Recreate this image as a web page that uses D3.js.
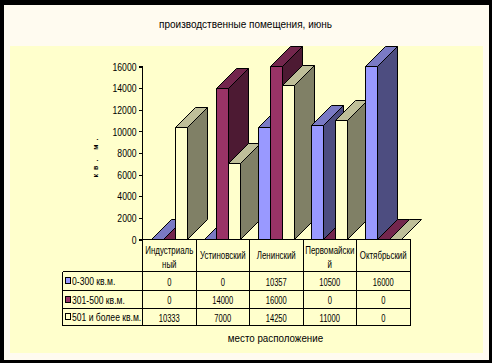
<!DOCTYPE html>
<html><head><meta charset="utf-8">
<script src="https://cdn.jsdelivr.net/npm/d3@7"></script>
<style>html,body{margin:0;padding:0;background:#000}svg{display:block}text{fill:#000}</style>
</head><body><div id="c"></div>
<script>
const categories = ["Индустриальный","Устиновский","Ленинский","Первомайский","Октябрьский"];
const categoryLines = [["Индустриаль","ный"],["Устиновский"],["Ленинский"],["Первомайски","й"],["Октябрьский"]];
const seriesNames = ["0-300 кв.м.","301-500 кв.м.","501 и более кв.м."];
const small = [0,0,10357,10500,16000];
const medium = [0,14000,16000,0,0];
const large = [10333,7000,14250,11000,0];
const yTicks = [0,2000,4000,6000,8000,10000,12000,14000,16000];
const seriesValues = [small,medium,large];
const fronts = ["#9999FF","#993366","#FFFFCC"];
const sides = ["#4D4D80","#4D1A33","#808066"];
const tops = ["#7A7AC4","#73264D","#BFBF99"];

const W=492,H=363,SANS="'Liberation Sans',Arial,sans-serif";
const svg=d3.select("#c").append("svg").attr("width",W).attr("height",H);
svg.append("rect").attr("width",W).attr("height",H).attr("fill","#000");
svg.append("rect").attr("x",4).attr("y",5).attr("width",485).attr("height",355).attr("fill","#FFFBF0");
svg.append("rect").attr("x",10).attr("y",46).attr("width",473).attr("height",307).attr("fill","#FFFFCC");

const y=d3.scaleLinear().domain([0,16000]).range([239.5,66.5]);
const x=d3.scaleBand().domain(categories).range([142.5,410]);
const xs=d3.scaleBand().domain(seriesNames).range([8.5,44.5]);
const dep=20, snap=v=>Math.round(v-0.5)+0.5;

const bars=svg.append("g").attr("stroke","#000").attr("stroke-width",1).attr("stroke-linejoin","miter");
categories.forEach((c,ci)=>{
  seriesNames.forEach((s,si)=>{
    const v=seriesValues[si][ci];
    const x0=snap(x(c)+xs(s)), x1=snap(x(c)+xs(s)+xs.bandwidth());
    const yt=snap(y(v)), yb=y(0);
    const poly=(pts,f)=>bars.append("polygon").attr("points",pts.map(p=>p.join(",")).join(" ")).attr("fill",f);
    if(v>0){
      poly([[x1,yt],[x1+dep,yt-dep],[x1+dep,yb-dep],[x1,yb]],sides[si]);
      poly([[x0,yb],[x0,yt],[x1,yt],[x1,yb]],fronts[si]);
    }
    poly([[x0,yt],[x0+dep,yt-dep],[x1+dep,yt-dep],[x1,yt]],tops[si]);
  });
});

// y axis
const tickSqueeze=0.75;
const ax=svg.append("g").attr("transform","translate(142.5,0)").call(d3.axisLeft(y).tickValues(yTicks).tickFormat(d3.format("d")).tickSize(4).tickPadding(2));
ax.selectAll("path,line").attr("stroke","#000").attr("shape-rendering","crispEdges");
ax.select(".domain").attr("d","M-4,66.5H0V239.5H-4");
ax.selectAll("text").attr("font-family",SANS).attr("font-size",11.5).attr("fill","#000")
  .attr("x",-6/tickSqueeze).attr("transform",`scale(${tickSqueeze},1)`);

// data table
const rowY=[271.5,290.5,308.5,325.5];
const L=62.5,R=410.5;
const t=svg.append("g").attr("stroke","#000").attr("shape-rendering","crispEdges");
const hl=(a,b,yy)=>t.append("line").attr("x1",a).attr("x2",b).attr("y1",yy).attr("y2",yy);
const vl=(xx,a,b)=>t.append("line").attr("x1",xx).attr("x2",xx).attr("y1",a).attr("y2",b);
hl(142.5,R,239.5); rowY.forEach(r=>hl(L,R,r));
vl(L,rowY[0],rowY[3]);
categories.forEach(c=>vl(snap(x(c)),239.5,rowY[3]));
vl(R,239.5,rowY[3]);

// the source uses a condensed face: texts are scaled horizontally by k
const txt=(tx,ty,s,size,anchor,k)=>svg.append("text").attr("transform",`translate(${tx},${ty}) scale(${k||1},1)`).attr("text-anchor",anchor||"middle")
  .attr("font-family",SANS).attr("font-size",size).text(s);
categories.forEach((c,ci)=>{
  const cx=x(c)+x.bandwidth()/2, lines=categoryLines[ci];
  if(lines.length===1) txt(cx,259,lines[0],11,"middle",0.72);
  else { txt(cx,253.5,lines[0],11,"middle",0.72); txt(cx,267.5,lines[1],11,"middle",0.72); }
  seriesNames.forEach((s,si)=>txt(cx,(rowY[si]+rowY[si+1])/2+4.5,seriesValues[si][ci],11,"middle",0.69));
});
seriesNames.forEach((s,si)=>{
  const my=Math.round((rowY[si]+rowY[si+1])/2);
  svg.append("rect").attr("x",65.5).attr("y",my-3.5).attr("width",5).attr("height",6).attr("fill",fronts[si]).attr("stroke","#000").attr("shape-rendering","crispEdges");
  txt(72,my+4,s,11,"start",0.78);
});

// titles
txt(245.5,27.5,"производственные помещения, июнь",11,"middle",0.91);
txt(275.5,342,"место расположение",11,"middle",0.89);
svg.append("text").attr("transform","translate(98,156) rotate(-90)").attr("text-anchor","middle").attr("font-family",SANS).attr("font-size",7).attr("letter-spacing",4).attr("font-weight","bold").text("кв. м.");
</script></body></html>
